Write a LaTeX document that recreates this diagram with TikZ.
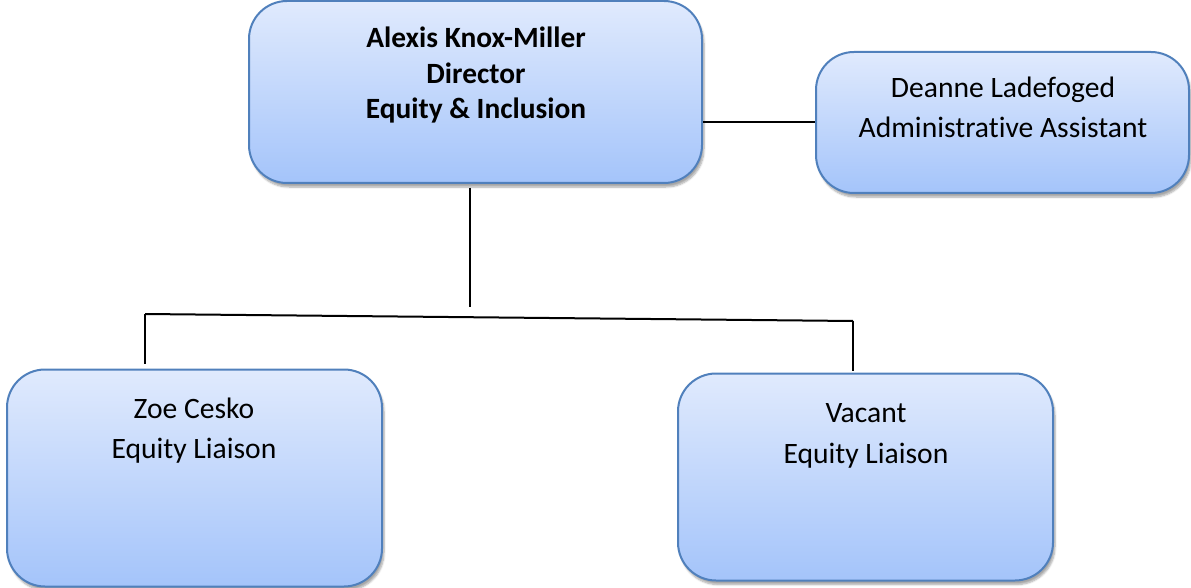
\documentclass[tikz,border=0pt]{standalone}
\usepackage{fontspec}
\setmainfont{Carlito}[Ligatures={NoCommon}]
\usetikzlibrary{shadows.blur}
\definecolor{boxtop}{RGB}{224,234,253}
\definecolor{boxbot}{RGB}{164,196,250}
\definecolor{boxline}{RGB}{80,128,188}
\tikzset{
  orgbox/.style={draw=boxline, line width=2pt, rounded corners=38pt,
    top color=boxtop, bottom color=boxbot, inner sep=0pt,
    blur shadow={shadow xshift=2pt, shadow yshift=-4pt, shadow blur steps=6, shadow opacity=35}},
  ln/.style={font=\fontsize{29.6}{34}\selectfont, anchor=base, inner sep=0pt},
  lnb/.style={ln, font=\fontsize{29.4}{34}\selectfont\bfseries},
  conn/.style={draw=black, line width=2pt}
}
\begin{document}
\begin{tikzpicture}[x=1pt,y=-1pt]
\useasboundingbox (0,0) rectangle (1191,588);
% boxes
\node[orgbox, minimum width=453pt, minimum height=182pt] (dir) at (475.5,92) {};
\node[orgbox, minimum width=373pt, minimum height=141pt] (asst) at (1002.5,122.5) {};
\node[orgbox, minimum width=375pt, minimum height=217pt] (zoe) at (194.5,478) {};
\node[orgbox, minimum width=375pt, minimum height=207pt] (vac) at (865.5,477) {};
% texts
\node[lnb] (dir1) at (476,48) {Alexis Knox-Miller};
\node[lnb] (dir2) at (476,83.5) {Director};
\node[lnb] (dir3) at (476,119) {Equity \& Inclusion};
\node[ln] (asst1) at (1003,98) {Deanne Ladefoged};
\node[ln] (asst2) at (1003,138) {Administrative Assistant};
\node[ln] (zoe1) at (194,418) {Zoe Cesko};
\node[ln] (zoe2) at (194,458) {Equity Liaison};
\node[ln] (vac1) at (866,422) {Vacant};
\node[ln] (vac2) at (866,463) {Equity Liaison};
% connectors
\coordinate (m) at (0,122);
\coordinate (j) at (470,307);
\coordinate (hl) at (145,314);
\coordinate (hr) at (853,321);
\draw[conn] (dir.east |- m) -- (asst.west |- m);
\draw[conn] ([yshift=-4pt]j |- dir.south) -- (j);
\draw[conn] (hl) -- (hr);
\draw[conn] (hl) -- ([yshift=5pt]hl |- zoe.north);
\draw[conn] (hr) -- ([yshift=2pt]hr |- vac.north);
\end{tikzpicture}
\end{document}
